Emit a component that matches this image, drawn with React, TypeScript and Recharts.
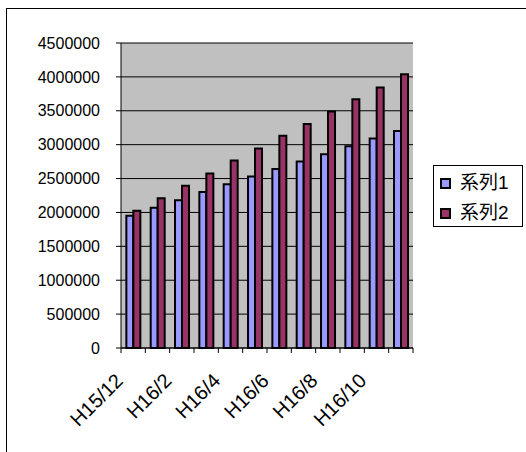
import React from 'react';
import { BarChart, Bar, XAxis, YAxis, CartesianGrid, Legend } from 'recharts';

// Monthly values, H15/12 through H16/11
const categories = [
  'H15/12', 'H16/1', 'H16/2', 'H16/3', 'H16/4', 'H16/5',
  'H16/6', 'H16/7', 'H16/8', 'H16/9', 'H16/10', 'H16/11',
];
const series1 = [
  1950000, 2070000, 2180000, 2300000, 2415000, 2530000,
  2640000, 2750000, 2860000, 2975000, 3090000, 3200000,
];
const series2 = [
  2025000, 2210000, 2395000, 2575000, 2765000, 2945000,
  3130000, 3305000, 3490000, 3670000, 3845000, 4040000,
];
const seriesNames = ['系列1', '系列2'];
const yTicks = [0, 500000, 1000000, 1500000, 2000000, 2500000, 3000000, 3500000, 4000000, 4500000];

const data = categories.map((name, i) => ({ name, s1: series1[i], s2: series2[i] }));

const FONT = '"Liberation Sans", Arial, sans-serif';
const CJK_FONT = '"Liberation Sans", "Noto Sans CJK JP", sans-serif';

// Category axis: tick marks on category boundaries, every other label rotated.
function CategoryTick(props: any) {
  const { x, y, payload, index, visibleTicksCount } = props;
  const half = payload && payload.offset ? payload.offset : 0;
  const lx = x - 9;
  const ly = y + 34;
  return (
    <g>
      <line x1={x - half} y1={y} x2={x - half} y2={y + 5} stroke="#000" strokeWidth={1} />
      {index === visibleTicksCount - 1 && (
        <line x1={x + half} y1={y} x2={x + half} y2={y + 5} stroke="#000" strokeWidth={1} />
      )}
      {index % 2 === 0 && (
        <text
          x={lx}
          y={ly}
          transform={`rotate(-45 ${lx} ${ly})`}
          textAnchor="end"
          fontFamily={FONT}
          fontSize={20}
          fill="#000"
        >
          {payload.value}
        </text>
      )}
    </g>
  );
}

function LegendBox(props: any) {
  const payload = props.payload || [];
  return (
    <div
      style={{
        position: 'absolute',
        left: 0,
        top: 0,
        width: 90,
        height: 62,
        boxSizing: 'border-box',
        border: '1px solid #000',
        background: '#fff',
      }}
    >
      {payload.map((item: any, i: number) => (
        <div
          key={item.value}
          style={{
            position: 'absolute',
            left: 6,
            top: 4 + i * 30,
            height: 26,
            display: 'flex',
            alignItems: 'center',
            whiteSpace: 'nowrap',
          }}
        >
          <span
            style={{
              display: 'inline-block',
              width: 11,
              height: 11,
              boxSizing: 'border-box',
              border: '2px solid #000',
              background: item.color,
              marginRight: 9,
            }}
          />
          <span style={{ fontFamily: CJK_FONT, fontSize: 19, color: '#000', lineHeight: '26px' }}>
            {item.value}
          </span>
        </div>
      ))}
    </div>
  );
}

export default function App() {
  return (
    <div
      style={{
        position: 'absolute',
        left: 0,
        top: 0,
        width: 526,
        height: 452,
        overflow: 'hidden',
        background: '#fff',
      }}
    >
      <div
        style={{
          position: 'absolute',
          left: 6,
          top: 8,
          width: 600,
          height: 600,
          border: '1px solid #000',
        }}
      />
      <BarChart
        width={526}
        height={452}
        data={data}
        margin={{ top: 43, right: 113, left: 0, bottom: 0 }}
        barCategoryGap="22%"
        barGap={0}
      >
        <CartesianGrid
          vertical={false}
          horizontal
          stroke="#000"
          strokeWidth={1}
          fill="#C0C0C0"
          fillOpacity={1}
        />
        <XAxis
          dataKey="name"
          height={104}
          interval={0}
          tickLine={false}
          tickSize={0}
          tickMargin={0}
          axisLine={{ stroke: '#000', strokeWidth: 1 }}
          tick={<CategoryTick />}
        />
        <XAxis
          xAxisId="top"
          dataKey="name"
          orientation="top"
          height={0}
          tick={false}
          tickLine={false}
          axisLine={{ stroke: '#808080', strokeWidth: 1 }}
        />
        <YAxis
          width={121}
          domain={[0, 4500000]}
          ticks={yTicks}
          interval={0}
          tickSize={5}
          tickMargin={16}
          tickLine={{ stroke: '#000' }}
          axisLine={{ stroke: '#000', strokeWidth: 1 }}
          tick={{ fill: '#000', fontSize: 16, fontFamily: FONT }}
        />
        <YAxis
          yAxisId="right"
          orientation="right"
          width={0}
          domain={[0, 4500000]}
          tick={false}
          tickLine={false}
          axisLine={{ stroke: '#808080', strokeWidth: 1 }}
        />
        <Legend
          layout="vertical"
          align="right"
          verticalAlign="middle"
          wrapperStyle={{ left: 433, top: 165, width: 0, height: 0 }}
          content={<LegendBox />}
        />
        <Bar dataKey="s1" name={seriesNames[0]} fill="#9999FF" stroke="#000" strokeWidth={2} isAnimationActive={false} />
        <Bar dataKey="s2" name={seriesNames[1]} fill="#993366" stroke="#000" strokeWidth={2} isAnimationActive={false} />
      </BarChart>
    </div>
  );
}
